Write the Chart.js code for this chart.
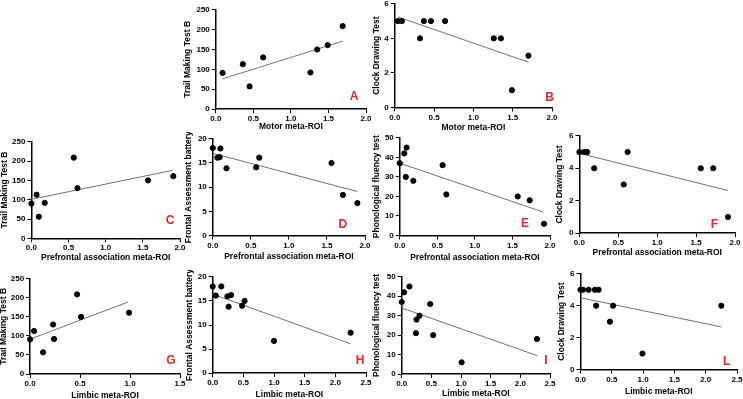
<!DOCTYPE html>
<html>
<head>
<meta charset="utf-8">
<script src="https://cdn.jsdelivr.net/npm/chart.js@4.4.1/dist/chart.umd.min.js"></script>
<style>
  html, body { margin: 0; padding: 0; background: #fff; }
  #stage { position: relative; width: 743px; height: 399px; overflow: hidden; background: #fff; }
  #stage canvas { position: absolute; }
  .tag {
    position: absolute;
    transform: translate(-50%, -50%);
    font: bold 12px "Liberation Sans", Arial, sans-serif;
    color: #e3262b;
  }
</style>
</head>
<body>
<div id="stage"></div>
<script>
// --- values ---

// A: Motor meta-ROI vs Trail Making Test B
const motorA = [0.09, 0.36, 0.45, 0.63, 1.26, 1.35, 1.49, 1.69];
const tmtA = [91, 113, 57, 130, 92, 150, 161, 209];
const fitXA = [0.09, 1.69];
const fitYA = [76, 171];

// B: Motor meta-ROI vs Clock Drawing Test
const motorB = [0.04, 0.09, 0.32, 0.37, 0.46, 0.64, 1.26, 1.35, 1.49, 1.70];
const cdtB = [5, 5, 4, 5, 5, 5, 4, 4, 1, 3];
const fitXB = [0.04, 1.70];
const fitYB = [5.24, 2.62];

// C: Prefrontal association meta-ROI vs Trail Making Test B
const prefC = [0.0, 0.07, 0.10, 0.18, 0.57, 0.62, 1.57, 1.91];
const tmtC = [90, 113, 56, 92, 209, 130, 150, 161];
const fitXC = [0.0, 1.90];
const fitYC = [101, 176];

// D: Prefrontal association meta-ROI vs Frontal Assessment battery
const prefD = [0.0, 0.06, 0.09, 0.10, 0.18, 0.57, 0.61, 1.56, 1.71, 1.90];
const fabD = [18.1, 16.1, 16.2, 18, 13.9, 14.1, 16.1, 15.0, 8.4, 6.7];
const fitXD = [0.0, 1.90];
const fitYD = [17.0, 9.1];

// E: Prefrontal association meta-ROI vs Phonological fluency test
const prefE = [0.0, 0.06, 0.09, 0.08, 0.18, 0.57, 0.62, 1.57, 1.73, 1.92];
const phonE = [37, 42, 45, 30, 28, 36, 21, 20, 18, 6];
const fitXE = [0.0, 1.91];
const fitYE = [37, 12];

// F: Prefrontal association meta-ROI vs Clock Drawing Test
const prefF = [0.0, 0.06, 0.10, 0.19, 0.57, 0.62, 1.56, 1.72, 1.91];
const cdtF = [5, 5, 5, 4, 3, 5, 4, 4, 1];
const fitXF = [0.0, 1.91];
const fitYF = [4.92, 2.63];

// G: Limbic meta-ROI vs Trail Making Test B
const limbG = [0.0, 0.04, 0.13, 0.23, 0.24, 0.47, 0.51, 0.99];
const tmtG = [91, 113, 57, 130, 92, 209, 150, 161];
const fitXG = [0.0, 0.98];
const fitYG = [91.5, 189];

// H: Limbic meta-ROI vs Frontal Assessment battery
const limbH = [0.0, 0.05, 0.14, 0.24, 0.26, 0.30, 0.48, 0.52, 1.0, 2.25];
const fabH = [18, 16.1, 18, 15.95, 13.8, 16.2, 14, 15, 6.7, 8.4];
const fitXH = [0.0, 2.25];
const fitYH = [16.4, 6.1];

// I: Limbic meta-ROI vs Phonological fluency test
const limbI = [0.0, 0.04, 0.13, 0.24, 0.25, 0.30, 0.48, 0.53, 1.01, 2.28];
const phonI = [37, 42, 45, 21, 28, 30, 36, 20, 6, 18];
const fitXI = [0.0, 2.28];
const fitYI = [34, 9.5];

// L: Limbic meta-ROI vs Clock Drawing Test
const limbL = [0.0, 0.04, 0.13, 0.23, 0.29, 0.25, 0.47, 0.52, 0.99, 2.25];
const cdtL = [5, 5, 5, 5, 5, 4, 3, 4, 1, 4];
const fitXL = [0.0, 2.25];
const fitYL = [4.5, 2.67];

// --- panel layout (plot box in page pixels, axis sizes, letter spot) ---
const panels = [
  { tag: 'A', xs: motorA, ys: tmtA, fx: fitXA, fy: fitYA, xMax: 2, yMax: 250, yStep: 50,
    xTitle: 'Motor meta-ROI', yTitle: 'Trail Making Test B',
    box: [216, 8.7, 365.7, 108.7], yw: 32.8, xh: 23, tagAt: [354, 96] },
  { tag: 'B', xs: motorB, ys: cdtB, fx: fitXB, fy: fitYB, xMax: 2, yMax: 6, yStep: 2,
    xTitle: 'Motor meta-ROI', yTitle: 'Clock Drawing Test',
    box: [395, 2.7, 552.3, 107.3], yw: 22.8, xh: 25.5, tagAt: [549.5, 97] },
  { tag: 'C', xs: prefC, ys: tmtC, fx: fitXC, fy: fitYC, xMax: 2, yMax: 250, yStep: 50,
    xTitle: 'Prefrontal association meta-ROI', yTitle: 'Trail Making Test B',
    box: [31, 141, 180, 238.7], yw: 31.4, xh: 24.7, tagAt: [170, 220] },
  { tag: 'D', xs: prefD, ys: fabD, fx: fitXD, fy: fitYD, xMax: 2, yMax: 20, yStep: 5,
    xTitle: 'Prefrontal association meta-ROI', yTitle: 'Frontal Assessment battery',
    box: [213, 138.3, 365, 235.3], yw: 28.8, xh: 26.5, tagAt: [342.8, 223.5] },
  { tag: 'E', xs: prefE, ys: phonE, fx: fitXE, fy: fitYE, xMax: 2, yMax: 50, yStep: 10,
    xTitle: 'Prefrontal association meta-ROI', yTitle: 'Phonological fluency test',
    box: [400, 137, 550.3, 235.3], yw: 27.8, xh: 27.5, tagAt: [525, 223] },
  { tag: 'F', xs: prefF, ys: cdtF, fx: fitXF, fy: fitYF, xMax: 2, yMax: 6, yStep: 2,
    xTitle: 'Prefrontal association meta-ROI', yTitle: 'Clock Drawing Test',
    box: [579.3, 135, 735, 233], yw: 24.4, xh: 24.8, tagAt: [714.5, 224] },
  { tag: 'G', xs: limbG, ys: tmtG, fx: fitXG, fy: fitYG, xMax: 1.5, yMax: 250, yStep: 50,
    xTitle: 'Limbic meta-ROI', yTitle: 'Trail Making Test B',
    box: [30, 277.7, 180, 374], yw: 31.1, xh: 27, tagAt: [170.8, 360] },
  { tag: 'H', xs: limbH, ys: fabH, fx: fitXH, fy: fitYH, xMax: 2.5, yMax: 20, yStep: 5,
    xTitle: 'Limbic meta-ROI', yTitle: 'Frontal Assessment battery',
    box: [212.3, 276, 365.3, 373.3], yw: 27.7, xh: 26.8, tagAt: [360, 360] },
  { tag: 'I', xs: limbI, ys: phonI, fx: fitXI, fy: fitYI, xMax: 2.5, yMax: 50, yStep: 10,
    xTitle: 'Limbic meta-ROI', yTitle: 'Phonological fluency test',
    box: [401.3, 275.7, 550, 373.3], yw: 29.7, xh: 25, tagAt: [546, 359.5] },
  { tag: 'L', xs: limbL, ys: cdtL, fx: fitXL, fy: fitYL, xMax: 2.5, yMax: 6, yStep: 2,
    xTitle: 'Limbic meta-ROI', yTitle: 'Clock Drawing Test',
    box: [580.7, 273.3, 737, 369.3], yw: 23.5, xh: 27.5, tagAt: [726.7, 360.8] },
];

const FONT = '"Liberation Sans", Arial, sans-serif';
const tickFont = { family: FONT, size: 8, weight: 'bold' };
const titleFont = { family: FONT, size: 8.5, weight: 'bold', lineHeight: 1.2 };
const PAD_TOP = 6, PAD_RIGHT = 10;

const stage = document.getElementById('stage');

function axis(opts) {
  return {
    type: 'linear',
    min: 0,
    max: opts.max,
    ticks: {
      stepSize: opts.step,
      color: '#000',
      font: tickFont,
      padding: opts.pad,
      maxRotation: 0,
      autoSkip: false,
      callback: opts.fmt,
    },
    grid: { drawOnChartArea: false, drawTicks: true, tickLength: 4, color: '#000', lineWidth: 1 },
    border: { display: true, color: '#000', width: 1.5 },
    title: { display: true, text: opts.title, color: '#000', font: titleFont, padding: 0 },
    afterFit: opts.fit,
  };
}

panels.forEach(p => {
  const [L, T, R, B] = p.box;
  const canvas = document.createElement('canvas');
  const w = Math.round((R - L) + p.yw + PAD_RIGHT);
  const h = Math.round((B - T) + PAD_TOP + p.xh);
  canvas.width = w;
  canvas.height = h;
  canvas.style.left = (L - p.yw) + 'px';
  canvas.style.top = (T - PAD_TOP) + 'px';
  stage.appendChild(canvas);

  const points = p.xs.map((x, i) => ({ x: x, y: p.ys[i] }));
  const fit = p.fx.map((x, i) => ({ x: x, y: p.fy[i] }));

  new Chart(canvas.getContext('2d'), {
    type: 'scatter',
    data: {
      datasets: [
        {
          data: points,
          backgroundColor: '#000',
          borderColor: '#000',
          pointRadius: 2.6,
          pointHoverRadius: 2.6,
          clip: false,
        },
        {
          type: 'line',
          data: fit,
          borderColor: '#707070',
          borderWidth: 1,
          pointRadius: 0,
          fill: false,
          clip: false,
        },
      ],
    },
    options: {
      responsive: false,
      animation: false,
      events: [],
      layout: { padding: { top: PAD_TOP, right: PAD_RIGHT, left: 0, bottom: 0 } },
      plugins: { legend: { display: false }, tooltip: { enabled: false } },
      scales: {
        x: axis({
          max: p.xMax, step: 0.5, pad: 1, title: p.xTitle,
          fmt: v => Number(v).toFixed(1),
          fit: s => { s.height = p.xh; },
        }),
        y: axis({
          max: p.yMax, step: p.yStep, pad: 2, title: p.yTitle,
          fmt: v => String(v),
          fit: s => { s.width = p.yw; },
        }),
      },
    },
  });

  const tag = document.createElement('div');
  tag.className = 'tag';
  tag.textContent = p.tag;
  tag.style.left = p.tagAt[0] + 'px';
  tag.style.top = p.tagAt[1] + 'px';
  stage.appendChild(tag);
});
</script>
</body>
</html>
